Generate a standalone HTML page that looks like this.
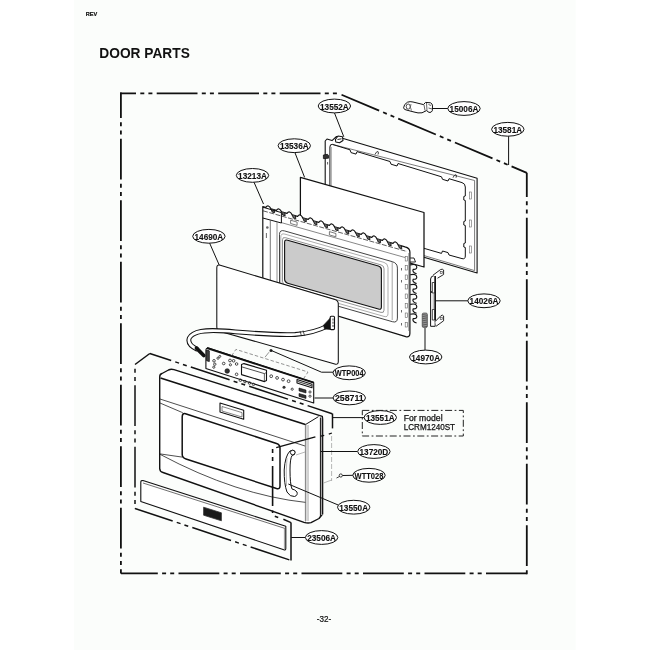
<!DOCTYPE html>
<html><head><meta charset="utf-8"><style>
html,body{margin:0;padding:0;background:#fff;}
body{width:650px;height:650px;overflow:hidden;position:relative;font-family:"Liberation Sans",sans-serif;}
svg{position:absolute;left:0;top:0;}
text{font-family:"Liberation Sans",sans-serif;}
</style></head><body>
<svg width="650" height="650" viewBox="0 0 650 650" style="will-change:transform">
<rect x="0" y="0" width="650" height="650" fill="#fff"/>
<rect x="74.2" y="0" width="501.4" height="650" fill="#fbfdfb"/>
<text x="85.8" y="15.7" font-size="5.2" font-weight="bold" fill="#111" stroke="#111" stroke-width="0.2" textLength="11.5" lengthAdjust="spacingAndGlyphs">REV</text>
<text x="99.3" y="57.5" font-size="14.4" font-weight="bold" fill="#111" textLength="90.5" lengthAdjust="spacingAndGlyphs">DOOR PARTS</text>
<text x="316.8" y="622" font-size="8.4" fill="#111" stroke="#111" stroke-width="0.2" textLength="14.4" lengthAdjust="spacingAndGlyphs">-32-</text>
<line x1="120.1" y1="93.3" x2="338.5" y2="93.3" stroke="#111" stroke-width="1.8" stroke-dasharray="40.8 4.3 4 4.1 4 4.3" stroke-dashoffset="24.9"/>
<line x1="120.9" y1="92.5" x2="120.9" y2="573.4" stroke="#111" stroke-width="1.8" stroke-dasharray="40.8 4.3 4 4.1 4 4.3" stroke-dashoffset="15.3"/>
<line x1="526.8" y1="573.4" x2="120.9" y2="573.4" stroke="#111" stroke-width="1.8" stroke-dasharray="40.8 4.3 4 4.1 4 4.3" stroke-dashoffset="0"/>
<line x1="526.8" y1="172.8" x2="526.8" y2="574.2" stroke="#111" stroke-width="1.8" stroke-dasharray="40.8 4.3 4 4.1 4 4.3" stroke-dashoffset="16.6"/>
<line x1="338.5" y1="93.5" x2="526.8" y2="172.8" stroke="#111" stroke-width="1.8" stroke-dasharray="40.8 4.3 4 4.1 4 4.3" stroke-dashoffset="58.2"/>
<polygon points="325.2,141.0 327.0,139.0 332.0,140.6 336.5,136.5 477.1,178.3 477.1,273.0 325.2,228.0" fill="#fff" stroke="#111" stroke-width="1.1" stroke-linejoin="round" />
<polyline points="332.4,144.4 474.6,180.5 474.6,270.6 330.0,227.6" fill="none" stroke="#444" stroke-width="0.7" stroke-linejoin="round" />
<path d="M332.4,144.4 L350,149.8 L351,152.6 L356,154.1 L357,151.6 L390,161.5 L391,164.2 L397,166 L398,163.5 L441.5,176.8 L442.5,179.3 L448,181 L449,178.7 L462,182.6 Q465.3,183.6 465.3,187 L465.3,196 L463.8,196.5 L463.8,200 L465.3,200.5 L465.3,221 L463.8,221.5 L463.8,225 L465.3,225.5 L465.3,243 L463.8,243.5 L463.8,247 L465.3,247.5 L465.3,256 Q465.3,259.5 462,258.6 L449,255 L448,252.6 L442.5,251 L441.5,253.4 L329.9,221 L329.9,147 Q329.9,144 332.4,144.4 Z" fill="none" stroke="#111" stroke-width="1" stroke-linejoin="round" />
<line x1="331.4" y1="147.0" x2="331.4" y2="226.0" stroke="#777" stroke-width="0.6" />
<rect x="469.5" y="192" width="2" height="7" fill="none" stroke="#666" stroke-width="0.6"/>
<rect x="469.5" y="220" width="2" height="7" fill="none" stroke="#666" stroke-width="0.6"/>
<rect x="469.5" y="246" width="2" height="7" fill="none" stroke="#666" stroke-width="0.6"/>
<path d="M375,154.5285 q1,-3 3,-3 q1,1 0,3" fill="none" stroke="#111" stroke-width="0.8" stroke-linejoin="round" />
<path d="M453,177.6945 q1,-3 3,-3 q1,1 0,3" fill="none" stroke="#111" stroke-width="0.8" stroke-linejoin="round" />
<path d="M335.4,139.5 L338,136 L342.5,136.8 L343,140.5 L339.5,142.8 L335.8,142 Z" fill="#fff" stroke="#111" stroke-width="1.1" stroke-linejoin="round" />
<path d="M337.5,139.5 L341.5,138.8" fill="none" stroke="#111" stroke-width="0.9" stroke-linejoin="round" />
<path d="M323.4,155 L327.5,154.3 L328.5,155.5 L328.5,158.2 L323.4,158.6 Z" fill="#333" stroke="#111" stroke-width="0.8" stroke-linejoin="round" />
<line x1="327.6" y1="162.0" x2="327.6" y2="164.5" stroke="#333" stroke-width="0.8" />
<polygon points="300.4,177.4 424.0,212.5 424.0,267.0 300.4,232.0" fill="#fff" stroke="#111" stroke-width="1.25" stroke-linejoin="round" />
<path d="M262.8,206.6 L265.8,207.4 Q268.3,203.8 271.0,208.9 L276.4,210.4 Q278.9,206.8 281.6,211.9 L287.0,213.4 Q289.5,209.8 292.2,214.9 L297.6,216.4 Q300.1,212.8 302.8,217.9 L308.2,219.4 Q310.7,215.8 313.4,220.9 L318.8,222.4 Q321.3,218.8 324.0,223.9 L329.4,225.4 Q331.9,221.8 334.6,226.9 L340.0,228.4 Q342.5,224.8 345.2,229.9 L350.6,231.4 Q353.1,227.8 355.8,232.9 L361.2,234.4 Q363.7,230.8 366.4,235.9 L371.8,237.4 Q374.3,233.8 377.0,238.9 L382.4,240.4 Q384.9,236.8 387.6,241.9 L393.0,243.4 Q395.5,239.8 398.2,244.9 L405,246.8 Q409.9,248 409.9,252 L409.9,333.5 Q409.9,337.6 405.8,336.6 L262.8,293.2 Z" fill="#fff" stroke="#111" stroke-width="1.2" stroke-linejoin="round" />
<path d="M271.0,208.9 L272.2,212.1 L274.6,212.7 L274.2,209.8" fill="#666" stroke="#111" stroke-width="0.9" stroke-linejoin="round" />
<path d="M281.6,211.9 L282.8,215.1 L285.2,215.7 L284.8,212.8" fill="#666" stroke="#111" stroke-width="0.9" stroke-linejoin="round" />
<path d="M292.2,214.9 L293.4,218.1 L295.8,218.7 L295.4,215.8" fill="#666" stroke="#111" stroke-width="0.9" stroke-linejoin="round" />
<path d="M302.8,217.9 L304.0,221.1 L306.4,221.7 L306.0,218.8" fill="#666" stroke="#111" stroke-width="0.9" stroke-linejoin="round" />
<path d="M313.4,220.9 L314.6,224.1 L317.0,224.7 L316.6,221.8" fill="#666" stroke="#111" stroke-width="0.9" stroke-linejoin="round" />
<path d="M324.0,223.9 L325.2,227.1 L327.6,227.7 L327.2,224.8" fill="#666" stroke="#111" stroke-width="0.9" stroke-linejoin="round" />
<path d="M334.6,226.9 L335.8,230.1 L338.2,230.7 L337.8,227.8" fill="#666" stroke="#111" stroke-width="0.9" stroke-linejoin="round" />
<path d="M345.2,229.9 L346.4,233.1 L348.8,233.7 L348.4,230.8" fill="#666" stroke="#111" stroke-width="0.9" stroke-linejoin="round" />
<path d="M355.8,232.9 L357.0,236.1 L359.4,236.7 L359.0,233.8" fill="#666" stroke="#111" stroke-width="0.9" stroke-linejoin="round" />
<path d="M366.4,235.9 L367.6,239.1 L370.0,239.7 L369.6,236.8" fill="#666" stroke="#111" stroke-width="0.9" stroke-linejoin="round" />
<path d="M377.0,238.9 L378.2,242.1 L380.6,242.7 L380.2,239.8" fill="#666" stroke="#111" stroke-width="0.9" stroke-linejoin="round" />
<path d="M387.6,241.9 L388.8,245.1 L391.2,245.7 L390.8,242.8" fill="#666" stroke="#111" stroke-width="0.9" stroke-linejoin="round" />
<path d="M398.2,244.9 L399.4,248.1 L401.8,248.7 L401.4,245.8" fill="#666" stroke="#111" stroke-width="0.9" stroke-linejoin="round" />
<path d="M410.2,264.90000000000003 Q416.8,263.5 416.8,267.3 Q416.6,269.70000000000005 413.2,269.3 Q411.8,272.1 416.6,273.70000000000005" fill="none" stroke="#111" stroke-width="1.15" stroke-linejoin="round" />
<path d="M410.2,274.8 Q416.8,273.4 416.8,277.2 Q416.6,279.6 413.2,279.2 Q411.8,282 416.6,283.6" fill="none" stroke="#111" stroke-width="1.15" stroke-linejoin="round" />
<path d="M410.2,284.7 Q416.8,283.29999999999995 416.8,287.09999999999997 Q416.6,289.5 413.2,289.09999999999997 Q411.8,291.9 416.6,293.5" fill="none" stroke="#111" stroke-width="1.15" stroke-linejoin="round" />
<path d="M410.2,294.6 Q416.8,293.2 416.8,297.0 Q416.6,299.40000000000003 413.2,299.0 Q411.8,301.8 416.6,303.40000000000003" fill="none" stroke="#111" stroke-width="1.15" stroke-linejoin="round" />
<path d="M410.2,304.40000000000003 Q416.8,303.0 416.8,306.8 Q416.6,309.20000000000005 413.2,308.8 Q411.8,311.6 416.6,313.20000000000005" fill="none" stroke="#111" stroke-width="1.15" stroke-linejoin="round" />
<path d="M410.2,314.2 Q416.8,312.79999999999995 416.8,316.59999999999997 Q416.6,319.0 413.2,318.59999999999997 Q411.8,321.4 416.6,323.0" fill="none" stroke="#111" stroke-width="1.15" stroke-linejoin="round" />
<path d="M410.2,258 L414,258 L415.5,262 L410.2,262" fill="none" stroke="#111" stroke-width="0.9" stroke-linejoin="round" />
<line x1="263.0" y1="210.8" x2="407.0" y2="251.5" stroke="#333" stroke-width="0.8" stroke-dasharray="5 1.5"/>
<line x1="281.0" y1="222.5" x2="405.0" y2="257.5" stroke="#555" stroke-width="0.7" />
<path d="M262.8,207.2 L281.4,212.6 L281.4,223 L262.8,218" fill="none" stroke="#111" stroke-width="1" stroke-linejoin="round" />
<line x1="270.3" y1="220.0" x2="270.3" y2="296.0" stroke="#555" stroke-width="0.8" />
<line x1="277.0" y1="222.0" x2="277.0" y2="298.0" stroke="#777" stroke-width="0.8" />
<circle cx="267.3" cy="227.5" r="1.3" fill="#666"/>
<line x1="266.4" y1="233.0" x2="266.4" y2="238.0" stroke="#444" stroke-width="0.8" />
<path d="M290.6,220.2 L297.1,222.1 L297.1,225.39999999999998 L290.6,223.5 Z" fill="none" stroke="#444" stroke-width="0.7" stroke-linejoin="round" />
<path d="M329.4,231.6 L335.9,233.5 L335.9,236.79999999999998 L329.4,234.9 Z" fill="none" stroke="#444" stroke-width="0.7" stroke-linejoin="round" />
<path d="M284.5,230.9 L392.4,261.7 Q397.4,263.1 397.4,268.1 L397.4,318.1 Q397.4,323.1 392.4,321.7 L284.5,290.9 Q279.5,289.5 279.5,284.5 L279.5,234.5 Q279.5,229.5 284.5,230.9 Z" fill="none" stroke="#222" stroke-width="0.85" stroke-linejoin="round" />
<path d="M284.8,234.1 L384.0,262.4 Q388.0,263.6 388.0,267.6 L388.0,313.6 Q388.0,317.6 384.0,316.4 L284.8,288.1 Q280.8,287.0 280.8,283.0 L280.8,237.0 Q280.8,233.0 284.8,234.1 Z" fill="none" stroke="#777" stroke-width="0.6" stroke-linejoin="round" />
<path d="M285.5,237.7 L381.0,264.9 Q384.0,265.7 384.0,268.7 L384.0,310.2 Q384.0,313.2 381.0,312.4 L285.5,285.2 Q282.5,284.3 282.5,281.3 L282.5,239.8 Q282.5,236.8 285.5,237.7 Z" fill="none" stroke="#555" stroke-width="0.65" stroke-linejoin="round" />
<line x1="392.2" y1="262.0" x2="392.2" y2="320.0" stroke="#666" stroke-width="0.6" />
<rect x="405.2" y="256.5" width="2.2" height="4.5" fill="none" stroke="#666" stroke-width="0.6"/>
<rect x="405.2" y="265.5" width="2.2" height="4.5" fill="none" stroke="#666" stroke-width="0.6"/>
<rect x="405.2" y="275" width="2.2" height="4.5" fill="none" stroke="#666" stroke-width="0.6"/>
<rect x="405.2" y="284.5" width="2.2" height="4.5" fill="none" stroke="#666" stroke-width="0.6"/>
<rect x="405.2" y="294" width="2.2" height="4.5" fill="none" stroke="#666" stroke-width="0.6"/>
<rect x="405.2" y="303.5" width="2.2" height="4.5" fill="none" stroke="#666" stroke-width="0.6"/>
<rect x="405.2" y="313" width="2.2" height="4.5" fill="none" stroke="#666" stroke-width="0.6"/>
<rect x="405.2" y="322.5" width="2.2" height="4.5" fill="none" stroke="#666" stroke-width="0.6"/>
<line x1="401.5" y1="268.0" x2="401.5" y2="270.5" stroke="#444" stroke-width="0.8" />
<line x1="401.5" y1="280.0" x2="401.5" y2="282.5" stroke="#444" stroke-width="0.8" />
<line x1="401.5" y1="310.0" x2="401.5" y2="312.5" stroke="#444" stroke-width="0.8" />
<line x1="401.5" y1="323.0" x2="401.5" y2="325.5" stroke="#444" stroke-width="0.8" />
<line x1="408.7" y1="253.0" x2="408.7" y2="331.0" stroke="#666" stroke-width="0.6" />
<path d="M287.6,240.2 L378.4,266.0 Q381.4,266.9 381.4,269.9 L381.4,306.9 Q381.4,309.9 378.4,309.0 L287.6,283.2 Q284.6,282.3 284.6,279.3 L284.6,242.3 Q284.6,239.3 287.6,240.2 Z" fill="#cbcbcb" stroke="#111" stroke-width="1.1" stroke-linejoin="round" />
<path d="M220.3,265.3 L334.8,299.5 Q338.3,300.5 338.3,304 L338.3,361.5 Q338.3,365 334.8,364 L220.3,331.5 Q216.8,330.5 216.8,327 L216.8,267.8 Q216.8,264.3 220.3,265.3 Z" fill="#fff" stroke="#111" stroke-width="1.05" stroke-linejoin="round" />
<path d="M327.5,326 C318,331 308,333.5 295,334.5 C275,335.5 250,333 225,331 C205,329.5 193,331 189.3,338 C187.5,343 192,347 197.5,349.5" fill="none" stroke="#111" stroke-width="4.8" stroke-linejoin="round" />
<path d="M327.5,326 C318,331 308,333.5 295,334.5 C275,335.5 250,333 225,331 C205,329.5 193,331 189.3,338 C187.5,343 192,347 197.5,349.5" fill="none" stroke="#fff" stroke-width="2.7" stroke-linejoin="round" />
<path d="M300,331 l1.5,5 M303,330.5 l1.5,5" fill="none" stroke="#111" stroke-width="0.7" stroke-linejoin="round" />
<path d="M323.5,325.2 L330.3,318 L330.3,329.5 L324.5,329 Z" fill="#111" stroke="#111" stroke-width="0.6" stroke-linejoin="round" />
<rect x="330.2" y="316.2" width="4.3" height="13.4" rx="1" fill="#fff" stroke="#111" stroke-width="1.1"/>
<line x1="333.0" y1="318.5" x2="333.0" y2="327.5" stroke="#222" stroke-width="0.9" stroke-dasharray="2 1.2"/>
<path d="M196.5,348.2 L203.8,355.5" fill="none" stroke="#111" stroke-width="3.8" stroke-linejoin="round" stroke-linecap="round"/>
<path d="M205.9,350.5 Q205.9,347.3 209,348.3 L313.7,382.6 L313.7,403 L205.9,368.4 Z" fill="#fff" stroke="#111" stroke-width="1.1" stroke-linejoin="round" />
<line x1="207.0" y1="348.0" x2="313.7" y2="382.6" stroke="#111" stroke-width="1.9" />
<polyline points="231.6,355.8 235.9,349.4 308.0,372.0 303.8,378.3" fill="none" stroke="#666" stroke-width="0.7" stroke-linejoin="round" stroke-dasharray="3.5 2"/>
<polyline points="265.0,357.2 269.0,352.2" fill="none" stroke="#666" stroke-width="0.7" stroke-linejoin="round" />
<circle cx="271" cy="350.6" r="1.5" fill="#222"/>
<path d="M206.6,350 L209.3,350.8 L209.3,361.5 L206.6,360.7 Z" fill="#444" stroke="#111" stroke-width="0.8" stroke-linejoin="round" />
<circle cx="214" cy="360.8" r="1.3" fill="none" stroke="#222" stroke-width="0.8"/>
<circle cx="214.8" cy="364.2" r="1.2" fill="none" stroke="#222" stroke-width="0.8"/>
<circle cx="213.8" cy="367.2" r="1.1" fill="none" stroke="#222" stroke-width="0.8"/>
<circle cx="218" cy="358.2" r="1.1" fill="none" stroke="#222" stroke-width="0.8"/>
<circle cx="219.8" cy="356.4" r="1" fill="none" stroke="#222" stroke-width="0.8"/>
<circle cx="223.7" cy="363.5" r="1.3" fill="none" stroke="#222" stroke-width="0.8"/>
<circle cx="230" cy="360.5" r="1.4" fill="none" stroke="#222" stroke-width="0.8"/>
<circle cx="233.6" cy="360.8" r="1.3" fill="none" stroke="#222" stroke-width="0.8"/>
<circle cx="236.6" cy="364" r="1.3" fill="none" stroke="#222" stroke-width="0.8"/>
<circle cx="230.4" cy="364.8" r="1.1" fill="none" stroke="#222" stroke-width="0.8"/>
<circle cx="236.6" cy="374.3" r="1.3" fill="none" stroke="#222" stroke-width="0.8"/>
<circle cx="240.4" cy="380.2" r="1.3" fill="none" stroke="#222" stroke-width="0.8"/>
<circle cx="245" cy="381.6" r="1.3" fill="none" stroke="#222" stroke-width="0.8"/>
<circle cx="249.5" cy="383" r="1.3" fill="none" stroke="#222" stroke-width="0.8"/>
<circle cx="253.5" cy="384.4" r="1.2" fill="none" stroke="#222" stroke-width="0.8"/>
<circle cx="271.2" cy="376.2" r="1.4" fill="none" stroke="#222" stroke-width="0.8"/>
<circle cx="277.1" cy="377.9" r="1.4" fill="none" stroke="#222" stroke-width="0.8"/>
<circle cx="283" cy="379.6" r="1.4" fill="none" stroke="#222" stroke-width="0.8"/>
<circle cx="288.6" cy="381.2" r="1.4" fill="none" stroke="#222" stroke-width="0.8"/>
<circle cx="292.2" cy="389.2" r="1.1" fill="none" stroke="#222" stroke-width="0.8"/>
<circle cx="310" cy="392" r="1.1" fill="none" stroke="#222" stroke-width="0.8"/>
<circle cx="310" cy="396.2" r="1.1" fill="none" stroke="#222" stroke-width="0.8"/>
<circle cx="227.2" cy="371" r="2.3" fill="#333" stroke="#111" stroke-width="0.6"/>
<circle cx="284" cy="387.2" r="1.5" fill="#333"/>
<path d="M241.5,364.5 L244,363.6 L266.5,370.3 L266.5,380.6 L264.5,381.6 L241.5,374.6 Z" fill="#fff" stroke="#111" stroke-width="1.1" stroke-linejoin="round" />
<line x1="241.5" y1="366.8" x2="264.4" y2="373.6" stroke="#222" stroke-width="0.8" />
<line x1="264.4" y1="373.6" x2="266.5" y2="372.5" stroke="#222" stroke-width="0.7" />
<line x1="264.4" y1="373.6" x2="264.4" y2="381.4" stroke="#222" stroke-width="0.7" />
<path d="M297,379.6 L312,384.3 L312,387.8 L297,383.1 Z" fill="#fff" stroke="#111" stroke-width="1.1" stroke-linejoin="round" />
<line x1="297.5" y1="381.4" x2="311.5" y2="385.8" stroke="#222" stroke-width="0.9" />
<path d="M299,388 L306,390.1 L306,393 L299,390.9 Z" fill="#333" stroke="#111" stroke-width="0.6" stroke-linejoin="round" />
<path d="M299,393.5 L306,395.6 L306,398.5 L299,396.4 Z" fill="#333" stroke="#111" stroke-width="0.6" stroke-linejoin="round" />
<path d="M159.7,377 Q159.7,374 162,373.5 L168.5,370 Q171,368.8 174,369.7 L322.3,416.3 L322.6,419 L322.6,514 L319,518.5 L311,522.6 Q307.8,523.5 304,522.3 L163,472.5 Q159.7,471.5 159.7,468.5 Z" fill="#fff" stroke="#111" stroke-width="1.4" stroke-linejoin="round" />
<line x1="160.5" y1="378.0" x2="305.4" y2="424.6" stroke="#111" stroke-width="1.6" />
<line x1="160.0" y1="399.0" x2="305.0" y2="446.0" stroke="#222" stroke-width="0.8" />
<path d="M160,403 L181.5,412.2 Q182.5,412.8 183,413" fill="none" stroke="#222" stroke-width="0.8" stroke-linejoin="round" />
<line x1="160.0" y1="453.9" x2="182.2" y2="457.1" stroke="#222" stroke-width="0.8" />
<path d="M160,454.3 Q236.8,495.2 306.5,502.5" fill="none" stroke="#222" stroke-width="0.8" stroke-linejoin="round" />
<path d="M185.5,413.8 L276.5,443.5 Q280,444.6 280,448 L280,486 Q280,489.5 276.5,488.5 L186,459 Q182.2,457.8 182.2,454.5 L182.2,417 Q182.2,412.8 185.5,413.8 Z" fill="none" stroke="#111" stroke-width="1.5" stroke-linejoin="round" />
<path d="M220,403 L243.7,410.2 L243.7,419.2 L220,412 Z" fill="none" stroke="#111" stroke-width="1.1" stroke-linejoin="round" />
<path d="M222,406.5 L242,412.6 L242,417 L222,411 Z" fill="none" stroke="#333" stroke-width="0.6" stroke-linejoin="round" />
<line x1="305.4" y1="424.6" x2="305.4" y2="521.5" stroke="#666" stroke-width="0.9" />
<rect x="305.9" y="425" width="2.4" height="96" fill="#d8d8d8"/>
<line x1="308.3" y1="425.0" x2="308.3" y2="521.0" stroke="#aaa" stroke-width="0.6" />
<line x1="305.4" y1="424.6" x2="318.5" y2="416.6" stroke="#111" stroke-width="1.0" />
<rect x="320.4" y="418" width="2.1" height="97" fill="#aaa"/>
<line x1="320.4" y1="417.5" x2="320.4" y2="517.0" stroke="#111" stroke-width="1.0" />
<line x1="322.5" y1="417.5" x2="322.5" y2="514.0" stroke="#111" stroke-width="0.9" />
<path d="M290,451 Q285,456 284.2,470 Q284,484 287,492 Q290,497 294.5,496.5 Q298,495.5 297,492 Q295,489.5 292,489 Q290,484 290,470 Q290,459 292,455.5 Q295.5,455.5 295,451.5 Q293.5,449 290,451 Z" fill="none" stroke="#111" stroke-width="1.0" stroke-linejoin="round" />
<circle cx="292.7" cy="452.5" r="2.3" fill="#fff" stroke="#111" stroke-width="0.9"/>
<path d="M287,458 Q285.8,470 286.5,486" fill="none" stroke="#888" stroke-width="0.6" stroke-linejoin="round" />
<line x1="276.2" y1="447.7" x2="315.4" y2="436.9" stroke="#111" stroke-width="1.4" />
<line x1="320.8" y1="436.1" x2="324.2" y2="435.3" stroke="#111" stroke-width="1.3" />
<line x1="328.8" y1="434.2" x2="331.9" y2="433.0" stroke="#111" stroke-width="1.3" />
<line x1="331.6" y1="436.0" x2="331.6" y2="481.0" stroke="#888" stroke-width="0.6" stroke-dasharray="5 2"/>
<line x1="323.6" y1="483.0" x2="331.6" y2="480.0" stroke="#888" stroke-width="0.6" />
<line x1="296.0" y1="455.0" x2="305.0" y2="452.0" stroke="#888" stroke-width="0.6" />
<line x1="135.0" y1="364.5" x2="135.0" y2="508.5" stroke="#111" stroke-width="1.5" stroke-dasharray="40.8 4.3 4 4.1 4 4.3" stroke-dashoffset="40.8"/>
<line x1="149.8" y1="353.5" x2="332.2" y2="413.7" stroke="#111" stroke-width="1.5" stroke-dasharray="40.8 4.3 4 4.1 4 4.3" stroke-dashoffset="18.3"/>
<line x1="135.0" y1="508.5" x2="291.2" y2="560.5" stroke="#111" stroke-width="1.5" stroke-dasharray="40.8 4.3 4 4.1 4 4.3" stroke-dashoffset="1.1"/>
<line x1="291.0" y1="522.5" x2="291.0" y2="560.5" stroke="#111" stroke-width="1.5" stroke-dasharray="40.8 4.3 4 4.1 4 4.3" stroke-dashoffset="0"/>
<line x1="135.0" y1="364.5" x2="149.8" y2="353.5" stroke="#111" stroke-width="1.5" />
<line x1="332.5" y1="413.5" x2="332.5" y2="428.4" stroke="#111" stroke-width="1.5" />
<line x1="272.6" y1="447.0" x2="272.6" y2="513.0" stroke="#111" stroke-width="1.6" stroke-dasharray="0 2 4 4 4 5 40 4.5 2.5 20"/>
<line x1="274.8" y1="516.3" x2="278.2" y2="517.5" stroke="#111" stroke-width="1.5" />
<line x1="283.4" y1="519.3" x2="291.0" y2="522.6" stroke="#111" stroke-width="1.5" />
<circle cx="340.8" cy="475.5" r="1.6" fill="none" stroke="#111" stroke-width="0.8"/>
<path d="M336.5,478 l3,-1.5" fill="none" stroke="#111" stroke-width="0.8" stroke-linejoin="round" />
<path d="M143,480.6 L285.8,526.3 L285.8,548.5 Q285.8,550.4 283.8,549.8 L140.8,501.5 L140.8,482.5 Q140.8,480 143,480.6 Z" fill="#fff" stroke="#111" stroke-width="1.1" stroke-linejoin="round" />
<line x1="143.0" y1="483.0" x2="284.6" y2="528.3" stroke="#333" stroke-width="0.7" />
<line x1="284.4" y1="527.8" x2="284.4" y2="549.3" stroke="#555" stroke-width="0.6" />
<path d="M203.6,507.2 L221.4,512.8 L221.4,520.8 L203.6,515.2 Z" fill="#1a1a1a" stroke="#333" stroke-width="0.8" stroke-linejoin="round" />
<path d="M403.6,107.8 Q403.8,104.2 407.5,102.2 Q410,101.2 413,102 L423.5,104.6 L425.5,102.4 L430.5,102.8 Q432.6,103.8 432.5,106 L432.3,110.8 Q431.5,112.8 429,112.4 L426.5,110.6 L422,112.8 Q418,113.4 414,112 L407,110.2 Q403.8,109.8 403.6,107.8 Z" fill="#fff" stroke="#111" stroke-width="1.0" stroke-linejoin="round" />
<ellipse cx="408.2" cy="106.6" rx="2" ry="2.6" fill="none" stroke="#222" stroke-width="0.8"/>
<path d="M411,104 Q409.5,107 411.5,110.5" fill="none" stroke="#444" stroke-width="0.7" stroke-linejoin="round" />
<path d="M424,104.8 L425,110.5 M426.5,103 L427,110.5 M428.5,104.5 L431,105.5 M428.5,108 L431.5,108.8" fill="none" stroke="#222" stroke-width="0.7" stroke-linejoin="round" />
<path d="M430.6,279 Q430.8,276 434,275.6 L435.2,275.6 L435.2,326.3 L430.6,326.3 Z" fill="#fff" stroke="#111" stroke-width="1.0" stroke-linejoin="round" />
<path d="M433,275.2 L440.5,269.6 Q442.5,268.6 443.6,270 L443.6,274.5 L437.5,278.2" fill="#fff" stroke="#111" stroke-width="0.9" stroke-linejoin="round" />
<path d="M435.2,321.5 L441,315.6 Q443,314.6 443.6,316 L443.6,320.8 L436,326.3" fill="#fff" stroke="#111" stroke-width="0.9" stroke-linejoin="round" />
<rect x="440.2" y="271.3" width="2" height="2.4" fill="none" stroke="#333" stroke-width="0.6"/>
<rect x="440.2" y="317.2" width="2" height="2.4" fill="none" stroke="#333" stroke-width="0.6"/>
<line x1="435.2" y1="276.0" x2="435.2" y2="320.0" stroke="#111" stroke-width="1.5" />
<path d="M432.3,282.5 L434.6,282.5 L434.6,293 L432.3,293 Z" fill="#fff" stroke="#111" stroke-width="0.8" stroke-linejoin="round" />
<path d="M432.3,309.5 L434.6,309.5 L434.6,320 L432.3,320 Z" fill="#fff" stroke="#111" stroke-width="0.8" stroke-linejoin="round" />
<line x1="433.2" y1="293.0" x2="433.2" y2="309.5" stroke="#888" stroke-width="0.7" />
<circle cx="431.2" cy="292" r="0.9" fill="#222"/>
<rect x="422.2" y="313" width="5.2" height="14.5" rx="1.5" fill="#999" stroke="#333" stroke-width="0.6"/>
<line x1="422.4" y1="314.5" x2="427.2" y2="315.3" stroke="#222" stroke-width="0.5" />
<line x1="422.4" y1="316.4" x2="427.2" y2="317.2" stroke="#222" stroke-width="0.5" />
<line x1="422.4" y1="318.3" x2="427.2" y2="319.1" stroke="#222" stroke-width="0.5" />
<line x1="422.4" y1="320.2" x2="427.2" y2="321.0" stroke="#222" stroke-width="0.5" />
<line x1="422.4" y1="322.1" x2="427.2" y2="322.9" stroke="#222" stroke-width="0.5" />
<line x1="422.4" y1="324.0" x2="427.2" y2="324.8" stroke="#222" stroke-width="0.5" />
<line x1="422.4" y1="325.9" x2="427.2" y2="326.7" stroke="#222" stroke-width="0.5" />
<line x1="334.5" y1="113.0" x2="343.8" y2="136.8" stroke="#111" stroke-width="1.0" />
<line x1="448.3" y1="108.5" x2="431.8" y2="108.5" stroke="#111" stroke-width="1.0" />
<line x1="508.6" y1="135.5" x2="508.6" y2="165.0" stroke="#111" stroke-width="1.0" />
<line x1="294.8" y1="152.3" x2="304.6" y2="177.4" stroke="#111" stroke-width="1.0" />
<line x1="253.7" y1="181.5" x2="263.5" y2="204.0" stroke="#111" stroke-width="1.0" />
<line x1="209.4" y1="242.6" x2="219.2" y2="265.0" stroke="#111" stroke-width="1.0" />
<line x1="468.3" y1="300.8" x2="435.5" y2="300.8" stroke="#111" stroke-width="1.0" />
<line x1="425.0" y1="350.8" x2="425.0" y2="328.0" stroke="#111" stroke-width="1.0" />
<line x1="333.8" y1="398.0" x2="314.5" y2="398.0" stroke="#111" stroke-width="1.0" />
<line x1="364.8" y1="417.6" x2="332.2" y2="417.6" stroke="#111" stroke-width="1.0" />
<line x1="357.5" y1="451.5" x2="320.8" y2="451.5" stroke="#111" stroke-width="1.0" />
<line x1="353.4" y1="475.3" x2="342.5" y2="475.5" stroke="#111" stroke-width="1.0" />
<line x1="338.2" y1="505.0" x2="288.3" y2="484.0" stroke="#111" stroke-width="1.0" />
<line x1="305.5" y1="537.5" x2="291.2" y2="537.5" stroke="#111" stroke-width="1.0" />
<polyline points="271.1,350.4 321.5,372.2 333.5,372.2" fill="none" stroke="#111" stroke-width="1.0" stroke-linejoin="round" />
<ellipse cx="334.4" cy="106" rx="16.2" ry="6.9" fill="#fff" stroke="#111" stroke-width="1.0"/>
<text x="334.4" y="109.5" font-size="8.4" font-weight="bold" text-anchor="middle" fill="#111" stroke="#111" stroke-width="0.1" textLength="28.8" lengthAdjust="spacingAndGlyphs">13552A</text>
<ellipse cx="464" cy="108.5" rx="16.2" ry="6.9" fill="#fff" stroke="#111" stroke-width="1.0"/>
<text x="464" y="112.0" font-size="8.4" font-weight="bold" text-anchor="middle" fill="#111" stroke="#111" stroke-width="0.1" textLength="28.8" lengthAdjust="spacingAndGlyphs">15006A</text>
<ellipse cx="507.8" cy="129.3" rx="16.2" ry="6.9" fill="#fff" stroke="#111" stroke-width="1.0"/>
<text x="507.8" y="132.8" font-size="8.4" font-weight="bold" text-anchor="middle" fill="#111" stroke="#111" stroke-width="0.1" textLength="28.8" lengthAdjust="spacingAndGlyphs">13581A</text>
<ellipse cx="294.3" cy="145.7" rx="16.2" ry="6.9" fill="#fff" stroke="#111" stroke-width="1.0"/>
<text x="294.3" y="149.2" font-size="8.4" font-weight="bold" text-anchor="middle" fill="#111" stroke="#111" stroke-width="0.1" textLength="28.8" lengthAdjust="spacingAndGlyphs">13536A</text>
<ellipse cx="252.5" cy="175.4" rx="16.2" ry="6.9" fill="#fff" stroke="#111" stroke-width="1.0"/>
<text x="252.5" y="178.9" font-size="8.4" font-weight="bold" text-anchor="middle" fill="#111" stroke="#111" stroke-width="0.1" textLength="28.8" lengthAdjust="spacingAndGlyphs">13213A</text>
<ellipse cx="208.9" cy="236.3" rx="16.2" ry="6.9" fill="#fff" stroke="#111" stroke-width="1.0"/>
<text x="208.9" y="239.8" font-size="8.4" font-weight="bold" text-anchor="middle" fill="#111" stroke="#111" stroke-width="0.1" textLength="28.8" lengthAdjust="spacingAndGlyphs">14690A</text>
<ellipse cx="484" cy="300.8" rx="16.2" ry="6.9" fill="#fff" stroke="#111" stroke-width="1.0"/>
<text x="484" y="304.3" font-size="8.4" font-weight="bold" text-anchor="middle" fill="#111" stroke="#111" stroke-width="0.1" textLength="28.8" lengthAdjust="spacingAndGlyphs">14026A</text>
<ellipse cx="425.7" cy="357" rx="16.2" ry="6.9" fill="#fff" stroke="#111" stroke-width="1.0"/>
<text x="425.7" y="360.5" font-size="8.4" font-weight="bold" text-anchor="middle" fill="#111" stroke="#111" stroke-width="0.1" textLength="28.8" lengthAdjust="spacingAndGlyphs">14970A</text>
<ellipse cx="349.2" cy="372.8" rx="16.2" ry="6.9" fill="#fff" stroke="#111" stroke-width="1.0"/>
<text x="349.2" y="376.3" font-size="8.4" font-weight="bold" text-anchor="middle" fill="#111" stroke="#111" stroke-width="0.1" textLength="28.8" lengthAdjust="spacingAndGlyphs">WTP004</text>
<ellipse cx="349.3" cy="397.9" rx="16.2" ry="6.9" fill="#fff" stroke="#111" stroke-width="1.0"/>
<text x="349.3" y="401.4" font-size="8.4" font-weight="bold" text-anchor="middle" fill="#111" stroke="#111" stroke-width="0.1" textLength="28.8" lengthAdjust="spacingAndGlyphs">258711</text>
<ellipse cx="380.3" cy="417.5" rx="16.2" ry="6.9" fill="#fff" stroke="#111" stroke-width="1.0"/>
<text x="380.3" y="421.0" font-size="8.4" font-weight="bold" text-anchor="middle" fill="#111" stroke="#111" stroke-width="0.1" textLength="28.8" lengthAdjust="spacingAndGlyphs">13551A</text>
<ellipse cx="373.9" cy="451.5" rx="16.2" ry="6.9" fill="#fff" stroke="#111" stroke-width="1.0"/>
<text x="373.9" y="455.0" font-size="8.4" font-weight="bold" text-anchor="middle" fill="#111" stroke="#111" stroke-width="0.1" textLength="28.8" lengthAdjust="spacingAndGlyphs">13720D</text>
<ellipse cx="369" cy="475.3" rx="16.2" ry="6.9" fill="#fff" stroke="#111" stroke-width="1.0"/>
<text x="369" y="478.8" font-size="8.4" font-weight="bold" text-anchor="middle" fill="#111" stroke="#111" stroke-width="0.1" textLength="28.8" lengthAdjust="spacingAndGlyphs">WTT028</text>
<ellipse cx="353.7" cy="507.2" rx="16.2" ry="6.9" fill="#fff" stroke="#111" stroke-width="1.0"/>
<text x="353.7" y="510.7" font-size="8.4" font-weight="bold" text-anchor="middle" fill="#111" stroke="#111" stroke-width="0.1" textLength="28.8" lengthAdjust="spacingAndGlyphs">13550A</text>
<ellipse cx="321.6" cy="537.5" rx="16.2" ry="6.9" fill="#fff" stroke="#111" stroke-width="1.0"/>
<text x="321.6" y="541.0" font-size="8.4" font-weight="bold" text-anchor="middle" fill="#111" stroke="#111" stroke-width="0.1" textLength="28.8" lengthAdjust="spacingAndGlyphs">23506A</text>
<rect x="362.3" y="410.4" width="101" height="25.6" fill="none" stroke="#222" stroke-width="1" stroke-dasharray="7 2.5 1.8 2.5"/>
<text x="403.7" y="421" font-size="8.3" fill="#111" stroke="#111" stroke-width="0.25" textLength="38.9" lengthAdjust="spacingAndGlyphs">For model</text>
<text x="403.7" y="430" font-size="8.7" fill="#111" stroke="#111" stroke-width="0.25" textLength="51.3" lengthAdjust="spacingAndGlyphs">LCRM1240ST</text>
</svg>
</body></html>
